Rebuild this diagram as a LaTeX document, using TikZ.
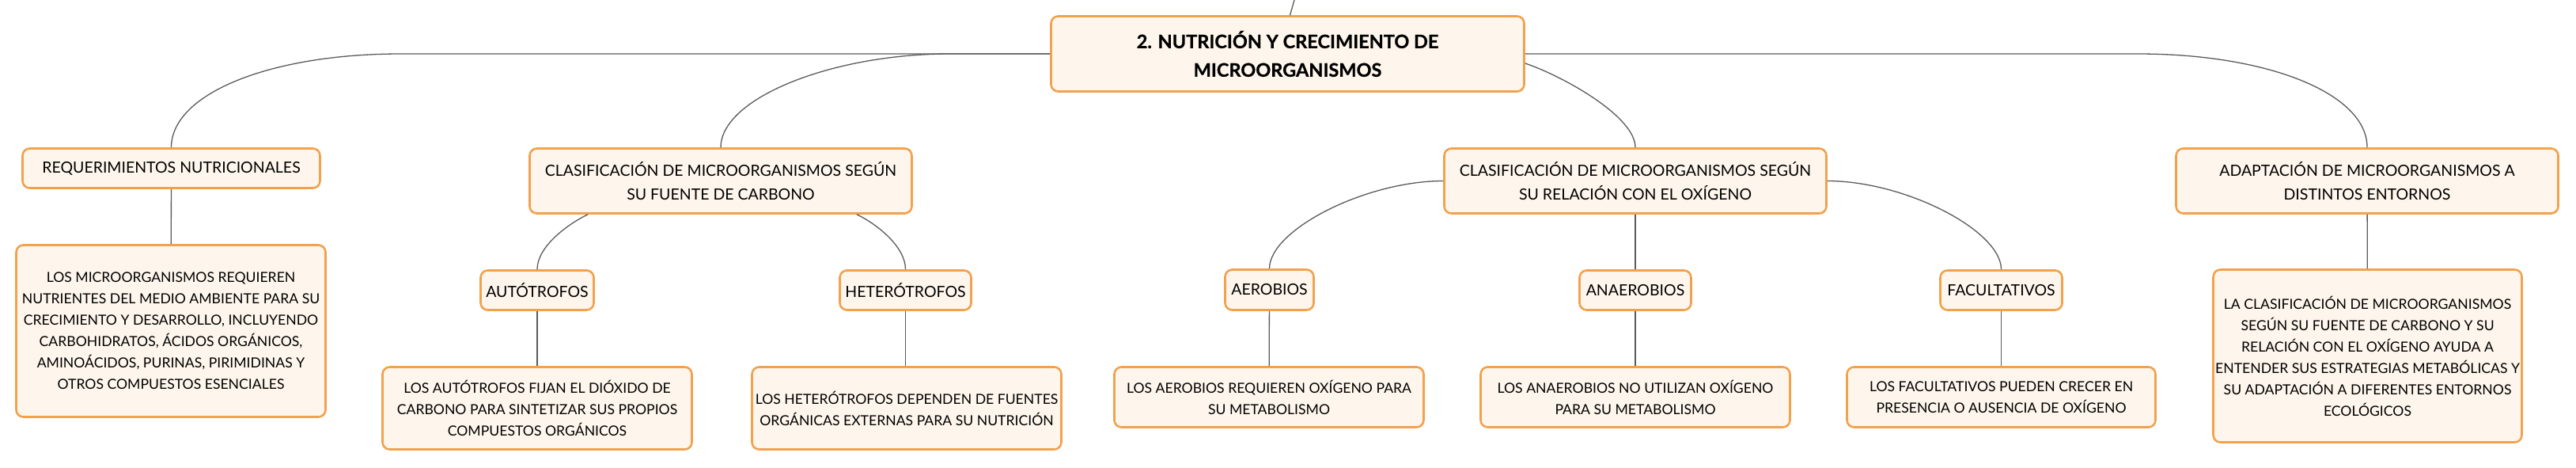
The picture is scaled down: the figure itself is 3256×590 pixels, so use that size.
\documentclass[tikz,border=0pt]{standalone}
\usepackage{fontspec}
\setmainfont{Lato}
\newfontfamily\titlefont{Lato}[BoldFeatures={FakeBold=0.8}]
\usetikzlibrary{calc}
\definecolor{boxline}{HTML}{F2A14D}
\definecolor{boxfill}{HTML}{FEF6EC}
\definecolor{connc}{HTML}{5A5A5A}
\tikzset{
  box/.style={draw=boxline, fill=boxfill, line width=2.6pt, rounded corners=9pt,
    align=center, inner sep=0pt, text=black, font=\fontsize{19.5}{30}\selectfont},
  dbox/.style={box, font=\fontsize{17.6}{27}\selectfont},
  tbox/.style={box, font=\titlefont\bfseries\fontsize{23.5}{36}\selectfont},
  conn/.style={draw=connc, line width=1.3pt},
}
\begin{document}
\begin{tikzpicture}[x=1pt,y=-1pt]
\useasboundingbox (0,0) rectangle (3256,590);
% nodes
\node[tbox, minimum width=598pt, minimum height=95pt] (root) at (1627.5,68)
  {2. NUTRICIÓN Y CRECIMIENTO DE\\MICROORGANISMOS};
\node[box, minimum width=376pt, minimum height=50pt] (req) at (216.5,212.5)
  {REQUERIMIENTOS NUTRICIONALES};
\node[dbox, minimum width=391pt, minimum height=217pt] (reqd) at (216,418)
  {LOS MICROORGANISMOS REQUIEREN\\NUTRIENTES DEL MEDIO AMBIENTE PARA SU\\CRECIMIENTO Y DESARROLLO, INCLUYENDO\\CARBOHIDRATOS, ÁCIDOS ORGÁNICOS,\\AMINOÁCIDOS, PURINAS, PIRIMIDINAS Y\\OTROS COMPUESTOS ESENCIALES};
\node[box, minimum width=483pt, minimum height=82pt] (carbon) at (911,228.5)
  {CLASIFICACIÓN DE MICROORGANISMOS SEGÚN\\SU FUENTE DE CARBONO};
\node[box, minimum width=143pt, minimum height=50pt] (aut) at (679,366.5) {AUTÓTROFOS};
\node[dbox, minimum width=391pt, minimum height=104pt] (autd) at (679,515.5)
  {LOS AUTÓTROFOS FIJAN EL DIÓXIDO DE\\CARBONO PARA SINTETIZAR SUS PROPIOS\\COMPUESTOS ORGÁNICOS};
\node[box, minimum width=166pt, minimum height=50pt] (het) at (1144.5,366.5) {HETERÓTROFOS};
\node[dbox, minimum width=391pt, minimum height=104pt] (hetd) at (1146,515.5)
  {LOS HETERÓTROFOS DEPENDEN DE FUENTES\\ORGÁNICAS EXTERNAS PARA SU NUTRICIÓN};
\node[box, minimum width=483pt, minimum height=82pt] (oxy) at (2067,228.5)
  {CLASIFICACIÓN DE MICROORGANISMOS SEGÚN\\SU RELACIÓN CON EL OXÍGENO};
\node[box, minimum width=112pt, minimum height=51pt] (aer) at (1604.5,366) {AEROBIOS};
\node[dbox, minimum width=391pt, minimum height=76pt] (aerd) at (1604,501.5)
  {LOS AEROBIOS REQUIEREN OXÍGENO PARA\\SU METABOLISMO};
\node[box, minimum width=141pt, minimum height=50pt] (ana) at (2067,366.5) {ANAEROBIOS};
\node[dbox, minimum width=391pt, minimum height=76pt] (anad) at (2067,501.5)
  {LOS ANAEROBIOS NO UTILIZAN OXÍGENO\\PARA SU METABOLISMO};
\node[box, minimum width=154pt, minimum height=50pt] (fac) at (2529.5,366.5) {FACULTATIVOS};
\node[dbox, minimum width=390pt, minimum height=76pt] (facd) at (2529.5,501.5)
  {LOS FACULTATIVOS PUEDEN CRECER EN\\PRESENCIA O AUSENCIA DE OXÍGENO};
\node[box, minimum width=483pt, minimum height=82pt] (adapt) at (2992,228.5)
  {ADAPTACIÓN DE MICROORGANISMOS A\\DISTINTOS ENTORNOS};
\node[dbox, minimum width=390pt, minimum height=218pt] (adaptd) at (2992.5,449.5)
  {LA CLASIFICACIÓN DE MICROORGANISMOS\\SEGÚN SU FUENTE DE CARBONO Y SU\\RELACIÓN CON EL OXÍGENO AYUDA A\\ENTENDER SUS ESTRATEGIAS METABÓLICAS Y\\SU ADAPTACIÓN A DIFERENTES ENTORNOS\\ECOLÓGICOS};
% helper coordinates
\coordinate (topend) at (1636,0);
\coordinate (reqk) at ($(req.north)+(290,0)$);
\coordinate (carbk) at ($(carbon.north)+(290,0)$);
\coordinate (adak) at ($(adapt.north)+(-290,0)$);
% connectors
\draw[conn] ($(root.north)+(3,0)$) -- (topend);
\draw[conn] (root.west) -- (reqk |- root.west) .. controls +(-165,0) and +(0,-68) .. (req.north);
\draw[conn] (root.west) -- (carbk |- root.west) .. controls +(-150,0) and +(0,-62) .. (carbon.north);
\draw[conn] (root.east) -- (adak |- root.east) .. controls +(165,0) and +(0,-68) .. (adapt.north);
\draw[conn] ($(root.east)+(0,12)$) .. controls +(45,15) and +(0,-40) .. (oxy.north);
\draw[conn] (req) -- (reqd);
\draw[conn] ($(carbon.south)+(-168,0)$) .. controls +(-25,12) and +(0,-29) .. (aut.north);
\draw[conn] ($(carbon.south)+(172,0)$) .. controls +(25,12) and +(0,-29) .. (het.north);
\draw[conn] (aut) -- (autd);
\draw[conn] (het.south) -- (het.south |- hetd.north);
\draw[conn] (oxy.west) .. controls +(-98,0) and +(0,-49) .. (aer.north);
\draw[conn] (oxy.east) .. controls +(98,0) and +(0,-49) .. (fac.north);
\draw[conn] (oxy) -- (ana);
\draw[conn] (aer) -- (aerd);
\draw[conn] (ana) -- (anad);
\draw[conn] (fac) -- (facd);
\draw[conn] (adapt) -- (adaptd);
\end{tikzpicture}
\end{document}
